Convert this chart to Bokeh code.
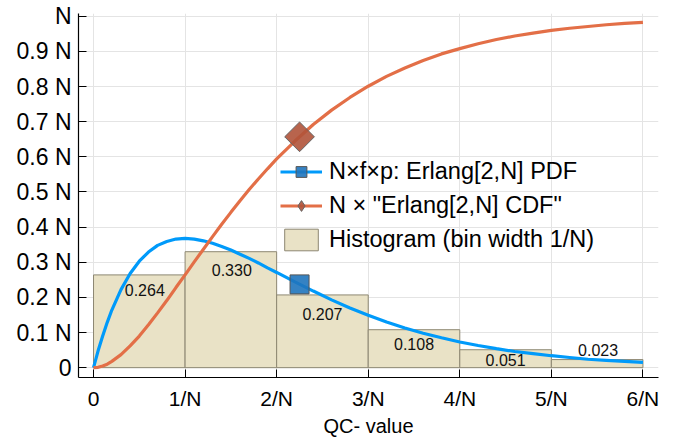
from bokeh.plotting import figure
from bokeh.models import (ColumnDataSource, FixedTicker, Range1d, Legend, LegendItem)
from bokeh.core.properties import value
from bokeh.embed import file_html
from bokeh.resources import INLINE

# ---- data ----
bin_left = [0, 1, 2, 3, 4, 5]
bin_right = [1, 2, 3, 4, 5, 6]
hist_vals = [0.264, 0.330, 0.207, 0.108, 0.051, 0.023]
hist_labels = ["0.264", "0.330", "0.207", "0.108", "0.051", "0.023"]
label_x = [0.56, 1.51, 2.50, 3.50, 4.50, 5.51]
label_y = [0.221, 0.277, 0.153, 0.066, 0.021, 0.049]

curve_x = [0.0, 0.05, 0.1, 0.15, 0.2, 0.3, 0.4, 0.5, 0.6, 0.7, 0.8, 0.9, 1.0,
           1.1, 1.2, 1.3, 1.4, 1.5, 1.6, 1.7, 1.8, 1.9, 2.0,
           2.2, 2.4, 2.6, 2.8, 3.0, 3.2, 3.4, 3.6, 3.8, 4.0,
           4.2, 4.4, 4.6, 4.8, 5.0, 5.2, 5.4, 5.6, 5.8, 6.0]
pdf_vals = [0.0, 0.048, 0.090, 0.129, 0.164, 0.222, 0.268, 0.303, 0.329, 0.348, 0.359,
            0.366, 0.368, 0.366, 0.361, 0.354, 0.345, 0.335, 0.323, 0.311, 0.298,
            0.284, 0.271,
            0.244, 0.218, 0.193, 0.170, 0.149, 0.130, 0.113, 0.098, 0.085, 0.073,
            0.063, 0.054, 0.046, 0.040, 0.034, 0.029, 0.024, 0.021, 0.018, 0.015]
cdf_vals = [0.0, 0.001, 0.005, 0.010, 0.018, 0.037, 0.062, 0.090, 0.122, 0.156, 0.191,
            0.228, 0.264, 0.301, 0.337, 0.373, 0.408, 0.442, 0.475, 0.507, 0.537,
            0.566, 0.594,
            0.645, 0.692, 0.733, 0.769, 0.801, 0.829, 0.853, 0.874, 0.893, 0.908,
            0.922, 0.934, 0.944, 0.952, 0.960, 0.966, 0.971, 0.976, 0.980, 0.983]

marker_x = [2.25]
marker_pdf = [0.237]
marker_cdf = [0.657]

x_ticks = [0, 1, 2, 3, 4, 5, 6]
x_tick_labels = ["0", "1/N", "2/N", "3/N", "4/N", "5/N", "6/N"]
y_ticks = [0.0, 0.1, 0.2, 0.3, 0.4, 0.5, 0.6, 0.7, 0.8, 0.9, 1.0]
y_tick_labels = ["0", "0.1 N", "0.2 N", "0.3 N", "0.4 N", "0.5 N", "0.6 N",
                 "0.7 N", "0.8 N", "0.9 N", "N"]

legend_labels = ["N\u00d7f\u00d7p: Erlang[2,N] PDF", "N \u00d7 \"Erlang[2,N] CDF\"",
                 "Histogram (bin width 1/N)"]
x_label = "QC- value"

FONT = "Liberation Sans"
BLUE = "#009AFA"
ORANGE = "#E36F47"

p = figure(width=676, height=439, output_backend="svg", toolbar_location=None,
           x_range=Range1d(-0.164, 6.17), y_range=Range1d(-0.028, 1.008))
p.min_border_left = 78
p.min_border_right = 18
p.min_border_top = 13
p.min_border_bottom = 59
p.outline_line_color = None
p.background_fill_color = "white"
p.border_fill_color = "white"

# grid
p.xgrid.ticker = FixedTicker(ticks=x_ticks)
p.ygrid.ticker = FixedTicker(ticks=y_ticks)
for g in (p.xgrid, p.ygrid):
    g.grid_line_color = "#e4e4e4"
    g.grid_line_width = 1

# axes
p.xaxis.ticker = FixedTicker(ticks=x_ticks)
p.xaxis.major_label_overrides = {t: l for t, l in zip(x_ticks, x_tick_labels)}
p.yaxis.ticker = FixedTicker(ticks=y_ticks)
p.yaxis.major_label_overrides = {t: l for t, l in zip(y_ticks, y_tick_labels)}
for ax in (p.xaxis[0], p.yaxis[0]):
    ax.axis_line_color = "black"
    ax.axis_line_width = 1.2
    ax.major_tick_in = 8
    ax.major_tick_out = 0
    ax.major_tick_line_color = "black"
    ax.minor_tick_line_color = None
    ax.major_label_text_font = FONT
    ax.major_label_text_color = "black"
p.xaxis.major_label_text_font_size = "21px"
p.yaxis.major_label_text_font_size = "23px"
p.xaxis.major_label_standoff = 9
p.yaxis.major_label_standoff = 7
p.xaxis.axis_label = x_label
p.xaxis.axis_label_text_font = FONT
p.xaxis.axis_label_text_font_style = "normal"
p.xaxis.axis_label_text_font_size = "20px"
p.xaxis.axis_label_standoff = 2
p.xaxis.axis_label_text_color = "black"

# histogram
hsrc = ColumnDataSource(dict(left=bin_left, right=bin_right, top=hist_vals,
                             bottom=[0] * len(hist_vals)))
bars = p.quad(left="left", right="right", top="top", bottom="bottom", source=hsrc,
              fill_color="#E9E2C6", fill_alpha=1.0, line_color="#8d8772", line_width=1)

lsrc = ColumnDataSource(dict(x=label_x, y=label_y, t=hist_labels))
p.text(x="x", y="y", text="t", source=lsrc, text_align="center", text_baseline="middle",
       text_font=value(FONT), text_font_size="16px", text_color="#111111")

# curves
pdf_line = p.line(curve_x, pdf_vals, line_color=BLUE, line_width=3.2)
cdf_line = p.line(curve_x, cdf_vals, line_color=ORANGE, line_width=3.2)

sq = p.scatter(marker_x, marker_pdf, marker="square", size=19, fill_color="#1f74bd",
               fill_alpha=0.9, line_color="#555555", line_width=1)
# diamond used for the legend swatch (tiny on the plot, hidden under the big marker)
dm_leg = p.scatter(marker_x, marker_cdf, marker="diamond", size=0.1,
                   fill_color="#b0533a", fill_alpha=0.9, line_color="#666666", line_width=1)
dm = p.scatter(marker_x, marker_cdf, marker="square", angle=0.7854, size=21,
               fill_color="#b0533a", fill_alpha=0.9, line_color="#666666", line_width=1)

legend = Legend(items=[
    LegendItem(label=legend_labels[0], renderers=[pdf_line, sq]),
    LegendItem(label=legend_labels[1], renderers=[cdf_line, dm_leg]),
    LegendItem(label=legend_labels[2], renderers=[bars]),
], location=(202, 124))
legend.glyph_width = 42
legend.glyph_height = 27
legend.spacing = 7
legend.padding = 0
legend.margin = 0
legend.label_standoff = 7
legend.label_text_font = FONT
legend.label_text_font_size = "23.5px"
legend.label_text_color = "black"
legend.border_line_alpha = 0
legend.background_fill_alpha = 0
legend.label_height = 27
p.add_layout(legend)

open("out.html", "w").write(file_html(p, INLINE))
